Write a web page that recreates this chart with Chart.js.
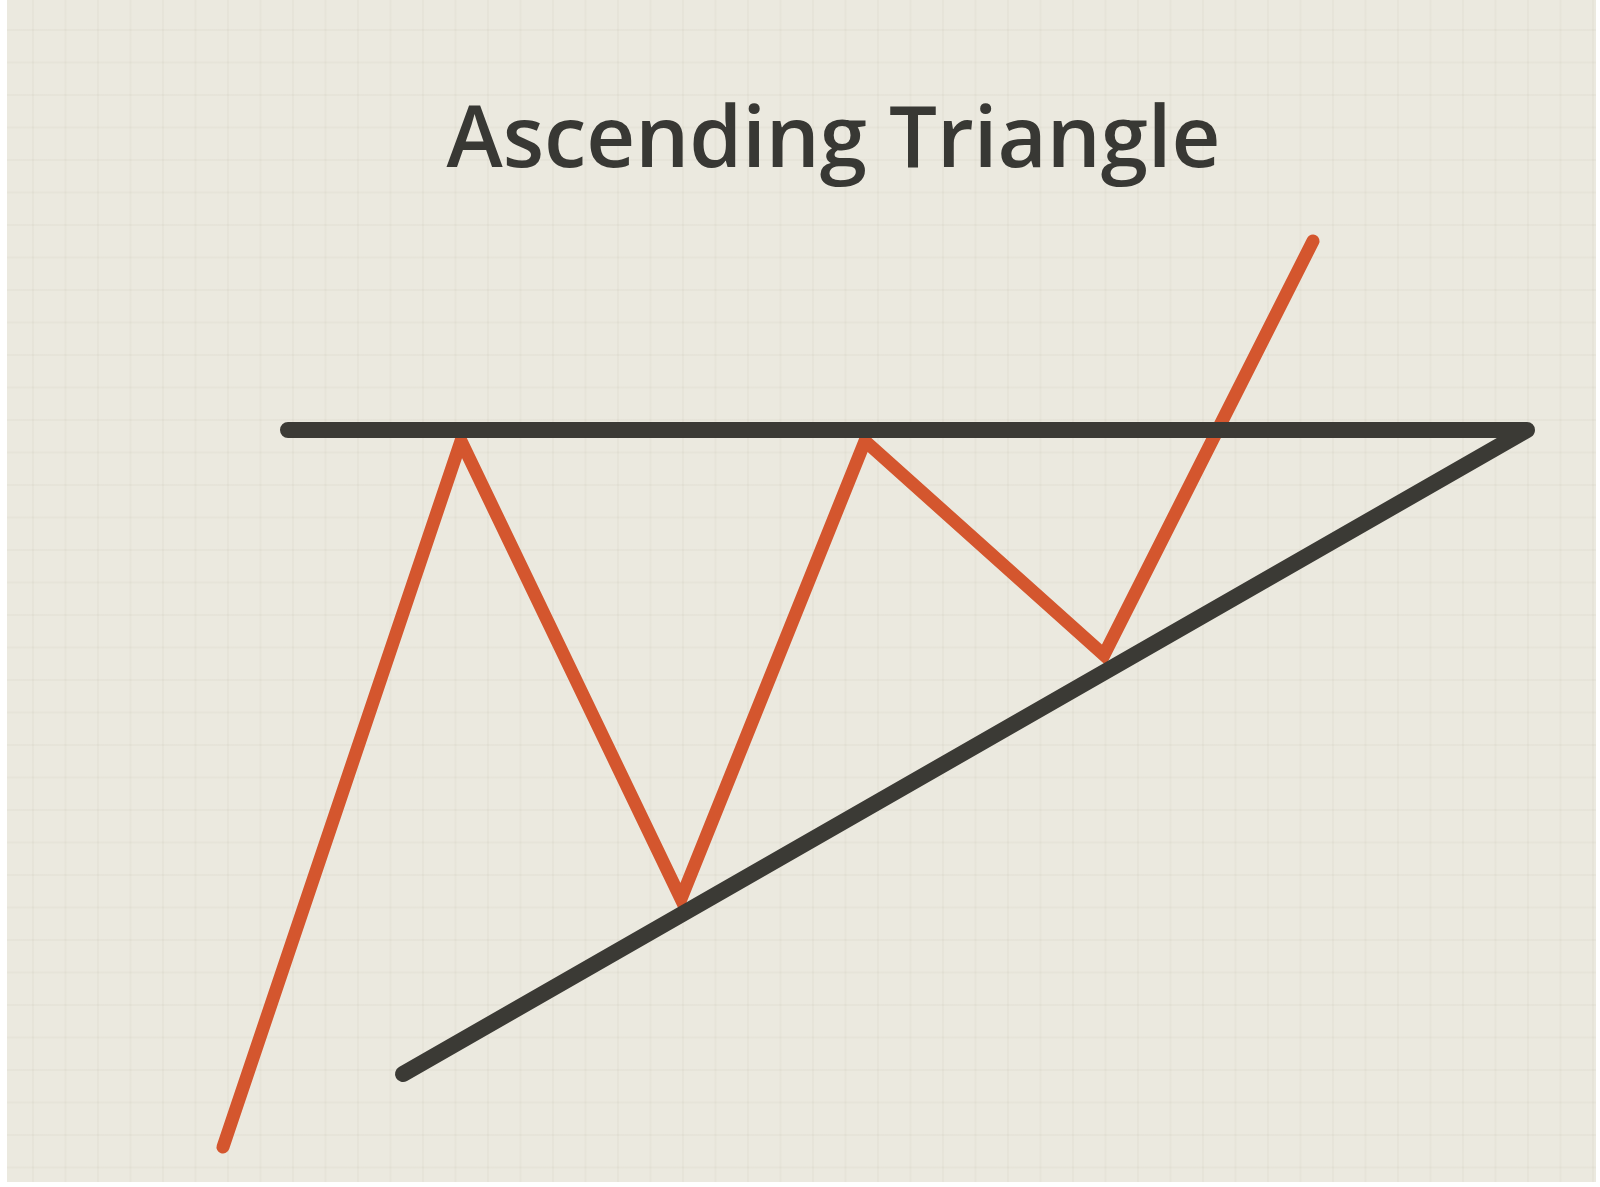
<!DOCTYPE html>
<html>
<head>
<meta charset="utf-8">
<script src="https://cdn.jsdelivr.net/npm/chart.js@4/dist/chart.umd.min.js"></script>
<style>
  html, body { margin: 0; padding: 0; background: #ffffff; width: 1600px; height: 1187px; overflow: hidden; }
  #paper {
    position: absolute; left: 7px; top: 0; width: 1589px; height: 1182px;
    background-color: #ebe9df;
    background-image:
      linear-gradient(to right, rgba(150,140,110,0.055) 2px, transparent 2px),
      linear-gradient(to bottom, rgba(150,140,110,0.055) 2px, transparent 2px);
    background-size: 32.5px 32.5px;
    background-position: 25px 29px;
  }
  canvas { display: block; }
</style>
</head>
<body>
<div id="paper"><canvas id="c" width="1589" height="1182"></canvas></div>
<script>
// Price path (orange) — page-pixel coordinates (y grows downward)
const priceX = [223, 461, 681, 865, 1104, 1313];
const priceY = [1147, 441, 899, 441, 655, 241];
// Triangle outline (dark): flat resistance, apex, rising support
const triangleX = [288, 1527, 403];
const triangleY = [430, 430, 1074];
const titleText = 'Ascending Triangle';

const titleSize = 85, titleLH = 1.2, titlePadTop = 92, titlePadBottom = 6;
const padLeft = 64;
const chartTop = titlePadTop + titleSize * titleLH + titlePadBottom;

const toPts = (xs, ys) => xs.map((x, i) => ({ x: x, y: ys[i] }));

new Chart(document.getElementById('c'), {
  type: 'line',
  data: {
    datasets: [
      {
        label: 'Trendlines',
        data: toPts(triangleX, triangleY),
        borderColor: '#3b3a35',
        borderWidth: 16,
        borderCapStyle: 'round',
        borderJoinStyle: 'round',
        pointRadius: 0,
        tension: 0,
        fill: false
      },
      {
        label: 'Price',
        data: toPts(priceX, priceY),
        borderColor: '#d4562e',
        borderWidth: 13,
        borderCapStyle: 'round',
        borderJoinStyle: 'miter',
        pointRadius: 0,
        tension: 0,
        fill: false
      }
    ]
  },
  options: {
    responsive: false,
    animation: false,
    layout: { padding: { left: padLeft, right: 0, top: 0, bottom: 0 } },
    plugins: {
      legend: { display: false },
      tooltip: { enabled: false },
      title: {
        display: true,
        text: titleText,
        color: '#383834',
        font: { family: '"Open Sans", sans-serif', size: titleSize, weight: '600', lineHeight: titleLH },
        padding: { top: titlePadTop, bottom: titlePadBottom }
      }
    },
    scales: {
      x: { type: 'linear', display: false, min: 7 + padLeft, max: 1596 },
      y: { type: 'linear', display: false, reverse: true, min: chartTop, max: 1182 }
    }
  }
});
</script>
</body>
</html>
